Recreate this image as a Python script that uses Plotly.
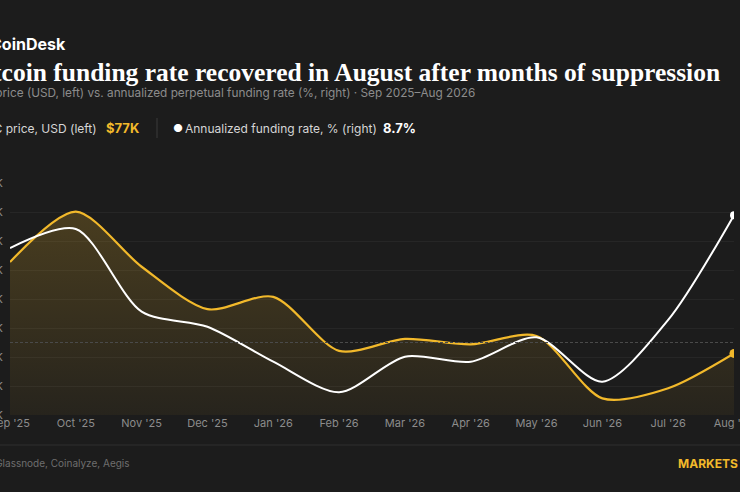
import plotly.graph_objects as go

# Dados mensais
meses = ["Sep '25", "Oct '25", "Nov '25", "Dec '25", "Jan '26", "Feb '26",
         "Mar '26", "Apr '26", "May '26", "Jun '26", "Jul '26", "Aug '26"]
preco_btc_k = [102.2, 116.1, 100.9, 89.2, 92.6, 77.7, 81.0, 79.5, 81.8, 64.6, 67.4, 77.0]
funding_pct = [7.27, 8.10, 4.50, 3.84, 2.32, 0.99, 2.54, 2.32, 3.38, 1.45, 4.14, 8.7]
ticks_preco = [60, 68, 76, 84, 92, 100, 108, 116, 124]
linha_ref_k = 80

BG = "#1c1c1c"
OURO = "#f2b92b"
CINZA = "#8c8c8c"
SANS = "Inter, 'Noto Sans', sans-serif"

fig = go.Figure()

# Preço do BTC (eixo esquerdo) com preenchimento em degradê
fig.add_trace(go.Scatter(
    x=meses, y=preco_btc_k, mode="lines", line=dict(color=OURO, width=2.2, shape="spline", smoothing=0.8),
    fill="tozeroy",
    fillgradient=dict(type="vertical", start=60, stop=116,
                      colorscale=[[0, "rgba(242,185,43,0.05)"], [1, "rgba(242,185,43,0.21)"]]),
    hoverinfo="skip", showlegend=False))

# Taxa de funding anualizada (eixo direito)
fig.add_trace(go.Scatter(
    x=meses, y=funding_pct, mode="lines", yaxis="y2",
    line=dict(color="#ffffff", width=2, shape="spline", smoothing=0.8),
    hoverinfo="skip", showlegend=False))

# Pontos finais
fig.add_trace(go.Scatter(x=meses[-1:], y=preco_btc_k[-1:], mode="markers",
                         marker=dict(color=OURO, size=9), showlegend=False, hoverinfo="skip"))
fig.add_trace(go.Scatter(x=meses[-1:], y=funding_pct[-1:], mode="markers", yaxis="y2",
                         marker=dict(color="#ffffff", size=8), showlegend=False, hoverinfo="skip"))

# Linha de referência tracejada
fig.add_hline(y=linha_ref_k, line=dict(color="#4a4a4a", width=1, dash="3px,2px"))


def px(xp):
    # converte pixel horizontal em coordenada "paper"
    return (xp - 10) / 724


def py(yp):
    # converte pixel vertical em coordenada "paper"
    return 1 + (183 - yp) / 232


anot = [
    dict(text="<b>CoinDesk</b>", x=68, y=44, size=16, color="#ffffff", font=SANS, anchor="right"),
    dict(text="<b>Bitcoin funding rate recovered in August after months of suppression</b>",
         x=722, y=72, size=25.5, color="#ffffff", font="'Liberation Serif', 'DejaVu Serif', serif", anchor="right"),
    dict(text="BTC price (USD, left) vs. annualized perpetual funding rate (%, right) · Sep 2025–Aug 2026",
         x=477, y=93, size=11.8, color=CINZA, font=SANS, anchor="right"),
    dict(text="●", x=-32, y=128, size=11, color=OURO, font=SANS, anchor="left"),
    dict(text="BTC price, USD (left)", x=99, y=128, size=12, color="#d6d6d6", font=SANS, anchor="right"),
    dict(text="<b>$" + str(round(preco_btc_k[-1])) + "K</b>", x=104, y=128, size=13, color=OURO, font=SANS, anchor="left"),
    dict(text="●", x=171, y=128, size=11, color="#ffffff", font=SANS, anchor="left"),
    dict(text="Annualized funding rate, % (right)", x=183, y=128, size=12, color="#d6d6d6", font=SANS, anchor="left"),
    dict(text="<b>" + str(funding_pct[-1]) + "%</b>", x=381, y=128, size=13, color="#ffffff", font=SANS, anchor="left"),
    dict(text="Source: Glassnode, Coinalyze, Aegis", x=132, y=463, size=10, color="#6e6e6e", font=SANS, anchor="right"),
    dict(text="<b>MARKETS</b>", x=740, y=463, size=12, color=OURO, font=SANS, anchor="right"),
]
for a in anot:
    fig.add_annotation(text=a["text"], xref="paper", yref="paper", x=px(a["x"]), y=py(a["y"]),
                       xanchor=a["anchor"], yanchor="middle", showarrow=False,
                       font=dict(size=a["size"], color=a["color"], family=a["font"]))

# Separadores
fig.add_shape(type="line", xref="paper", yref="paper", x0=px(157), x1=px(157),
              y0=py(118), y1=py(138), line=dict(color="#3a3a3a", width=1))
fig.add_shape(type="line", xref="paper", yref="paper", x0=px(-20), x1=px(760),
              y0=py(445), y1=py(445), line=dict(color="#2e2e2e", width=1))

fig.update_layout(
    width=740, height=492, template="none",
    paper_bgcolor=BG, plot_bgcolor=BG,
    margin=dict(l=10, r=6, t=183, b=77),
    font=dict(family=SANS, color=CINZA),
    xaxis=dict(showgrid=False, zeroline=False, showline=False, automargin=False,
               tickfont=dict(size=11, color=CINZA), ticks="", range=[0, 11]),
    yaxis=dict(range=[60, 124], tickvals=ticks_preco, ticktext=[str(t) + "K" for t in ticks_preco],
               showgrid=True, gridcolor="#262626", gridwidth=1, zeroline=False, showline=False,
               automargin=False, ticks="", ticklabelstandoff=6, tickfont=dict(size=11, color=CINZA)),
    yaxis2=dict(range=[0, 10.1], overlaying="y", side="right", showgrid=False, zeroline=False,
                showline=False, automargin=False, ticks="", showticklabels=False),
)

fig.write_html("out.html", config={"displayModeBar": False},
               post_script="document.body.style.margin='0';document.body.style.background='" + BG + "';")
